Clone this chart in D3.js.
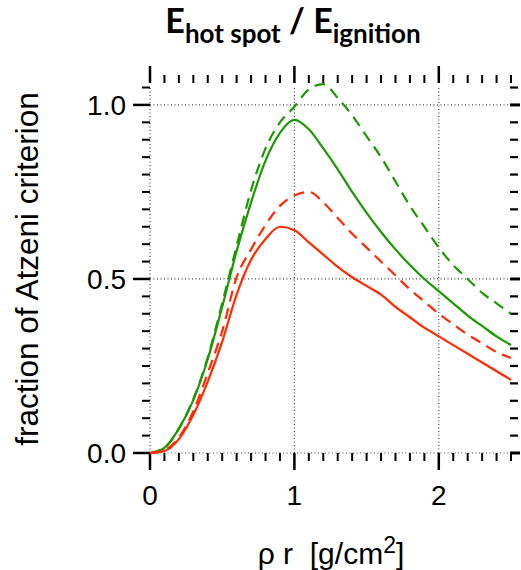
<!DOCTYPE html>
<html><head><meta charset="utf-8">
<script src="https://cdn.jsdelivr.net/npm/d3@7"></script>
<style>body{margin:0;background:#fff;} svg{display:block;}</style>
</head><body>
<svg id="c" width="521" height="570"></svg>
<script>
const xs = [0,0.1,0.2,0.3,0.4,0.5,0.6,0.7,0.8,0.9,1.0,1.1,1.2,1.3,1.4,1.5,1.6,1.7,1.8,1.9,2.0,2.1,2.2,2.3,2.4,2.5];
const greenSolid  = [0,0.015,0.07,0.152,0.27,0.42,0.58,0.72,0.84,0.92,0.957,0.93,0.875,0.815,0.75,0.69,0.635,0.585,0.54,0.50,0.465,0.43,0.395,0.365,0.335,0.31];
const greenDashed = [0,0.015,0.07,0.155,0.275,0.43,0.595,0.755,0.875,0.95,0.995,1.045,1.06,1.02,0.97,0.91,0.85,0.78,0.71,0.65,0.59,0.54,0.50,0.46,0.43,0.40];
const redDashed   = [0,0.008,0.045,0.12,0.23,0.35,0.505,0.585,0.655,0.71,0.74,0.75,0.72,0.675,0.63,0.59,0.55,0.51,0.47,0.435,0.40,0.37,0.34,0.315,0.29,0.273];
const redSolid    = [0,0.006,0.04,0.11,0.205,0.32,0.455,0.555,0.615,0.65,0.64,0.605,0.57,0.535,0.505,0.48,0.455,0.42,0.39,0.36,0.335,0.31,0.285,0.26,0.235,0.21];
const xTickLabels = ["0","1","2"];
const yTickLabels = ["0.0","0.5","1.0"];

const svg = d3.select("#c");
const x = d3.scaleLinear().domain([0,2.5]).range([150,511]);
const y = d3.scaleLinear().domain([0,1.063]).range([453,83]);
const FONT = "Liberation Sans, Arial, sans-serif";

// dotted grid
const gridX = [0,1,2], gridY = [0,0.5,1.0];
svg.selectAll(".gx").data(gridX).enter().append("line")
  .attr("x1",d=>x(d)).attr("x2",d=>x(d)).attr("y1",y(0)).attr("y2",y(1.05))
  .attr("stroke","#444").attr("stroke-width",1.2).attr("stroke-dasharray","1,2.5");
svg.selectAll(".gy").data(gridY).enter().append("line")
  .attr("x1",x(0)).attr("x2",x(2.5)).attr("y1",d=>y(d)).attr("y2",d=>y(d))
  .attr("stroke","#444").attr("stroke-width",1.2).attr("stroke-dasharray","1,2.5");

// ticks
const xMinor = d3.range(0,26).map(i=>i/10);
const yMinor = d3.range(0,22).map(i=>i/20);
const isMajX = d=>Math.abs(d-Math.round(d))<1e-6;
const isMajY = d=>Math.abs(d*2-Math.round(d*2))<1e-6;
const tk = svg.append("g").attr("stroke","#000");
tk.selectAll(".tb").data(xMinor).enter().append("line")
  .attr("x1",d=>x(d)).attr("x2",d=>x(d)).attr("y1",y(0)).attr("y2",d=>y(0)+(isMajX(d)?17:8))
  .attr("stroke-width",d=>isMajX(d)?2.5:2);
tk.selectAll(".tt").data(xMinor).enter().append("line")
  .attr("x1",d=>x(d)).attr("x2",d=>x(d)).attr("y1",83).attr("y2",d=>83-(isMajX(d)?17:8))
  .attr("stroke-width",d=>isMajX(d)?2.5:2);
tk.selectAll(".tl").data(yMinor).enter().append("line")
  .attr("x1",x(0)).attr("x2",d=>x(0)-(isMajY(d)?17:8)).attr("y1",d=>y(d)).attr("y2",d=>y(d))
  .attr("stroke-width",d=>isMajY(d)?2.5:2);
tk.selectAll(".tr").data(yMinor).enter().append("line")
  .attr("x1",510).attr("x2",d=>510+(isMajY(d)?10:8)).attr("y1",d=>y(d)).attr("y2",d=>y(d))
  .attr("stroke-width",d=>isMajY(d)?3:2.2);

// tick labels
svg.selectAll(".xl").data(xTickLabels).enter().append("text")
  .attr("x",(d,i)=>x(i)).attr("y",505).attr("text-anchor","middle")
  .attr("font-family",FONT).attr("font-size",28).text(d=>d);
svg.selectAll(".yl").data(yTickLabels).enter().append("text")
  .attr("x",126).attr("y",(d,i)=>y(i*0.5)+10).attr("text-anchor","end")
  .attr("font-family",FONT).attr("font-size",28).text(d=>d);

// axis titles
svg.append("text").attr("transform","translate(38,269) rotate(-90)").attr("text-anchor","middle")
  .attr("font-family",FONT).attr("font-size",31.5)
  .text("fraction of Atzeni criterion");
const xt = svg.append("text").attr("x",331).attr("y",564).attr("text-anchor","middle")
  .attr("font-family",FONT).attr("font-size",30).style("white-space","pre");
xt.append("tspan").text("ρ r  [g/cm");
xt.append("tspan").attr("dy",-11).attr("font-size",23).text("2");
xt.append("tspan").attr("dy",11).text("]");

// title
const tt = svg.append("text").attr("x",293).attr("y",33).attr("text-anchor","middle")
  .attr("font-family","Lato, Open Sans, sans-serif").attr("font-weight","bold").attr("font-size",34).style("white-space","pre");
tt.append("tspan").text("E");
tt.append("tspan").attr("dy",10).attr("font-size",26).text("hot spot");
tt.append("tspan").attr("dy",-10).text(" / E");
tt.append("tspan").attr("dy",10).attr("font-size",26).text("ignition");

// curves
const line = d3.line().x((d,i)=>x(xs[i])).y(d=>y(d)).curve(d3.curveMonotoneX);
const series = [
  {v:greenSolid, c:"#1a9a00", dash:null},
  {v:greenDashed, c:"#1a9a00", dash:"11,7"},
  {v:redSolid, c:"#ff2a00", dash:null},
  {v:redDashed, c:"#ff2a00", dash:"11,7"}
];
svg.selectAll(".curve").data(series).enter().append("path")
  .attr("d",d=>line(d.v)).attr("fill","none").attr("stroke",d=>d.c)
  .attr("stroke-width",2.2).attr("stroke-dasharray",d=>d.dash);
</script>
</body></html>
